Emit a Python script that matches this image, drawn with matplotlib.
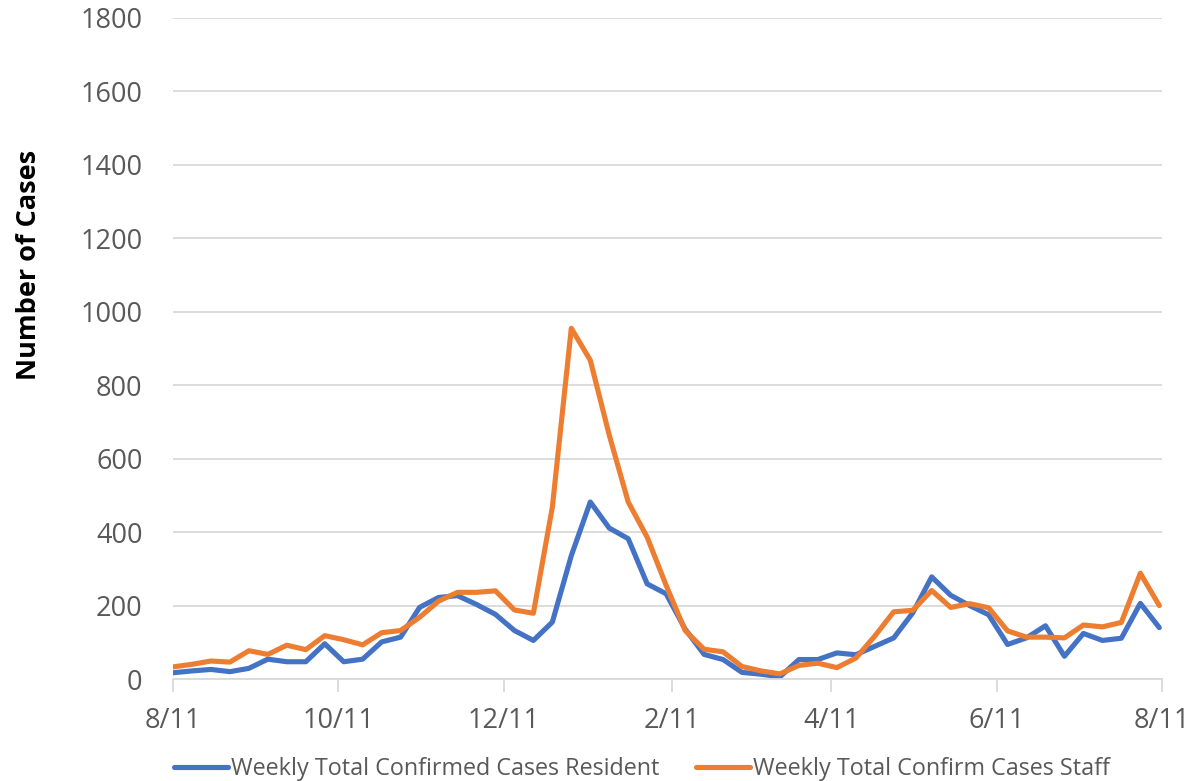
import matplotlib
matplotlib.use("Agg")
import matplotlib.pyplot as plt
import matplotlib.dates as mdates
import numpy as np
import datetime as dt

start = dt.date(2020, 8, 11)
weeks = [start + dt.timedelta(days=7 * i) for i in range(53)]

resident = [17, 22, 26, 20, 29, 54, 47, 47, 96, 47, 54, 101, 114, 195, 222, 227, 203, 176,
            132, 105, 155, 336, 482, 411, 382, 259, 232, 136, 67, 53, 18, 13, 6, 53, 53, 71,
            66, 89, 112, 180, 278, 228, 200, 175, 94, 112, 145, 62, 124, 105, 111, 206, 140]
staff = [33, 40, 49, 46, 77, 67, 92, 80, 118, 107, 93, 126, 132, 168, 212, 236, 236, 240,
         188, 179, 468, 955, 868, 664, 482, 386, 255, 132, 81, 74, 34, 22, 14, 37, 43, 31,
         57, 117, 183, 187, 241, 195, 205, 194, 131, 114, 114, 112, 147, 142, 154, 288, 200]

tick_dates = [dt.date(2020, 8, 11), dt.date(2020, 10, 11), dt.date(2020, 12, 11),
              dt.date(2021, 2, 11), dt.date(2021, 4, 11), dt.date(2021, 6, 11),
              dt.date(2021, 8, 11)]
tick_labels = ["8/11", "10/11", "12/11", "2/11", "4/11", "6/11", "8/11"]
y_ticks = list(range(0, 2000, 200))

plt.rcParams['font.family'] = ['Open Sans', 'DejaVu Sans']

fig = plt.figure(figsize=(11.94, 7.81), dpi=100)
ax = fig.add_axes([0.1449, 0.1306, 0.9732 - 0.1449, 0.977 - 0.1306])

ax.plot(weeks, resident, color="#4472C4", lw=3.7, solid_capstyle="round",
        solid_joinstyle="round", label="Weekly Total Confirmed Cases Resident")
ax.plot(weeks, staff, color="#ED7D31", lw=3.7, solid_capstyle="round",
        solid_joinstyle="round", label="Weekly Total Confirm Cases Staff")

ax.set_xlim(mdates.date2num(tick_dates[0]), mdates.date2num(tick_dates[-1]))
ax.set_ylim(0, 1800)
ax.set_yticks(y_ticks)
ax.set_xticks([mdates.date2num(d) for d in tick_dates])
ax.set_xticklabels(tick_labels)

ax.grid(axis="y", color="#d9d9d9", lw=1.3)
ax.set_axisbelow(True)
for s in ["top", "right", "left"]:
    ax.spines[s].set_visible(False)
ax.spines["bottom"].set_color("#d9d9d9")
ax.spines["bottom"].set_linewidth(1.3)

ax.tick_params(axis="y", length=0, pad=22, labelsize=19.5, labelcolor="#595959")
ax.tick_params(axis="x", length=9, width=1.3, color="#d9d9d9", pad=11,
               labelsize=19.5, labelcolor="#595959")

ax.set_ylabel("Number of Cases", fontsize=19.5, fontweight="bold", color="black")
ax.yaxis.set_label_coords(-0.132, 0.626)

leg = ax.legend(loc="upper center", bbox_to_anchor=(0.474, -0.118), ncol=2, frameon=False,
                fontsize=16.8, handlelength=2.3, handletextpad=0.12, columnspacing=1.6,
                borderaxespad=0, borderpad=0)
for t in leg.get_texts():
    t.set_color("#595959")

fig.savefig("out.png", dpi=100)
